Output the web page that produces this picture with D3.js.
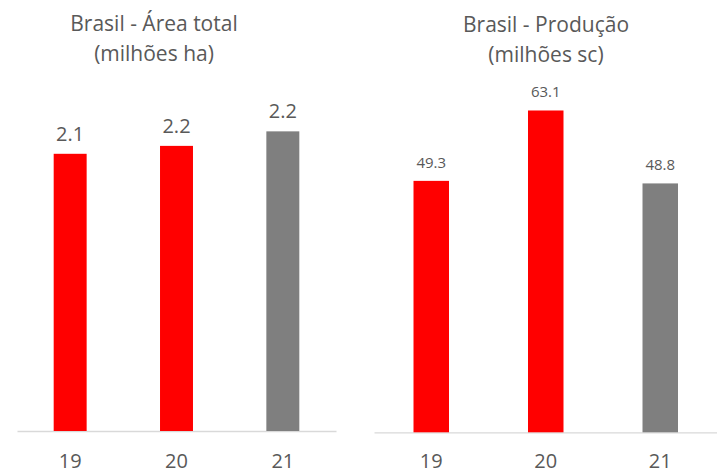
<!DOCTYPE html>
<meta charset="utf-8">
<style>
body { margin: 0; background: #fff; }
svg text { font-family: "Segoe UI", "Open Sans", sans-serif; fill: #595959; }
.axis .domain { stroke: #d9d9d9; stroke-width: 1.3px; }
</style>
<svg width="717" height="475"></svg>
<script src="https://cdn.jsdelivr.net/npm/d3@7"></script>
<script>

var years = ["19", "20", "21"];

// área total, milhões ha (bar heights, labels as printed)
var areaValues = [2.1, 2.16, 2.27];
var areaLabels = ["2.1", "2.2", "2.2"];

// produção, milhões sc
var prodValues = [49.3, 63.1, 48.8];

var barColors = ["#ff0000", "#ff0000", "#7f7f7f"];

var svg = d3.select("svg");

function drawChart(opt) {
  var g = svg.append("g");

  var x = d3.scaleBand()
      .domain(years)
      .range([opt.x0, opt.x1])
      .padding(0);

  var y = d3.scaleLinear()
      .domain([0, opt.yMax])
      .range([opt.base, opt.top]);

  var bw = x.bandwidth() * 0.31;

  g.append("g")
      .attr("class", "axis")
      .attr("transform", "translate(0," + opt.base + ")")
      .call(d3.axisBottom(x).tickSize(0).tickSizeOuter(0).tickPadding(opt.tickPad))
      .call(function(a) {
        a.selectAll("text").style("font-size", opt.tickFont + "px");
      });

  g.selectAll("rect")
      .data(opt.values)
    .enter().append("rect")
      .attr("x", function(d, i) { return x(years[i]) + (x.bandwidth() - bw) / 2; })
      .attr("y", function(d) { return y(d); })
      .attr("width", bw)
      .attr("height", function(d) { return opt.base - y(d); })
      .attr("fill", function(d, i) { return barColors[i]; });

  g.selectAll(".lbl")
      .data(opt.values)
    .enter().append("text")
      .attr("class", "lbl")
      .attr("x", function(d, i) { return x(years[i]) + x.bandwidth() / 2; })
      .attr("y", function(d) { return y(d) - opt.lblGap; })
      .attr("text-anchor", "middle")
      .style("font-size", opt.lblFont + "px")
      .text(function(d, i) { return opt.labels ? opt.labels[i] : d3.format(".1f")(d); });

  var t = g.append("text")
      .attr("text-anchor", "middle")
      .style("font-size", opt.titleFont + "px");
  opt.title.forEach(function(line, i) {
    t.append("tspan")
        .attr("x", opt.titleX)
        .attr("y", opt.titleY + i * 30)
        .text(line);
  });
}

drawChart({
  x0: 17, x1: 336, base: 431, top: 101, yMax: 2.5,
  values: areaValues, labels: areaLabels,
  title: ["Brasil - Área total", "(milhões ha)"],
  titleX: 154, titleY: 31, titleFont: 21,
  lblFont: 20, lblGap: 13,
  tickFont: 20, tickPad: 23
});

drawChart({
  x0: 374, x1: 717.5, base: 432.3, top: 75.3, yMax: 70,
  values: prodValues,
  title: ["Brasil - Produção", "(milhões sc)"],
  titleX: 546, titleY: 32, titleFont: 21,
  lblFont: 15, lblGap: 13,
  tickFont: 20, tickPad: 22
});

</script>
